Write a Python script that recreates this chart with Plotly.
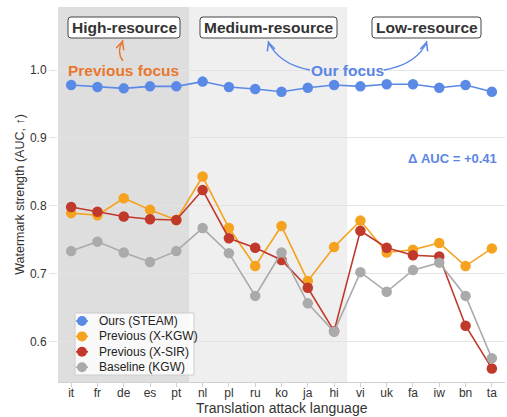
import plotly.graph_objects as go

languages = ["it", "fr", "de", "es", "pt", "nl", "pl", "ru", "ko", "ja", "hi",
             "vi", "uk", "fa", "iw", "bn", "ta"]
steam = [0.978, 0.975, 0.973, 0.976, 0.976, 0.983, 0.975, 0.972, 0.968, 0.974, 0.978,
         0.976, 0.979, 0.979, 0.974, 0.978, 0.968]
xkgw = [0.789, 0.786, 0.811, 0.794, 0.779, 0.843, 0.767, 0.711, 0.770, 0.689, 0.739,
        0.778, 0.731, 0.735, 0.745, 0.711, 0.737]
xsir = [0.798, 0.791, 0.784, 0.780, 0.779, 0.823, 0.752, 0.738, 0.720, 0.679, 0.615,
        0.763, 0.738, 0.727, 0.725, 0.623, 0.560]
kgw = [0.733, 0.747, 0.731, 0.717, 0.733, 0.767, 0.730, 0.667, 0.731, 0.656, 0.614,
       0.702, 0.673, 0.705, 0.716, 0.667, 0.575]
y_ticks = [0.6, 0.7, 0.8, 0.9, 1.0]
region_labels = ["High-resource", "Medium-resource", "Low-resource"]

series = [
    ("Ours (STEAM)", steam, "#5b8ae6"),
    ("Previous (X-KGW)", xkgw, "#f5a31f"),
    ("Previous (X-SIR)", xsir, "#c0392b"),
    ("Baseline (KGW)", kgw, "#aaaaaa"),
]

FONT = "Liberation Sans, Arial, sans-serif"
x_idx = list(range(len(languages)))

fig = go.Figure()
for name, vals, col in series:
    fig.add_trace(go.Scatter(
        x=x_idx, y=vals, name=name, mode="lines+markers",
        line=dict(color=col, width=1.6),
        marker=dict(color=col, size=10.5),
        cliponaxis=False, showlegend=False,
    ))

# resource-region shading
fig.add_shape(type="rect", xref="x", yref="paper", x0=-0.5, x1=4.5, y0=0, y1=1,
              fillcolor="#dedede", line_width=0, layer="below")
fig.add_shape(type="rect", xref="x", yref="paper", x0=4.5, x1=10.5, y0=0, y1=1,
              fillcolor="#efefef", line_width=0, layer="below")

def px2paper(px, py):
    return (px - 58) / 447, (382 - py) / 375

# curved arrows
def curve(p0, c, p1, color):
    x0, y0 = px2paper(*p0)
    cx, cy = px2paper(*c)
    x1, y1 = px2paper(*p1)
    fig.add_shape(type="path", xref="paper", yref="paper",
                  path=f"M {x0},{y0} Q {cx},{cy} {x1},{y1}",
                  line=dict(color=color, width=1.3))

def head(tip, frm, color):
    tx, ty = px2paper(*tip)
    fig.add_annotation(xref="paper", yref="paper", x=tx, y=ty, text="",
                       showarrow=True, arrowhead=5, arrowsize=1.3, arrowwidth=1.2,
                       arrowcolor=color, ax=frm[0] - tip[0], ay=frm[1] - tip[1])

orange = "#e8772e"
blue = "#5b86e5"
curve((123, 61), (116, 52), (123, 40), orange)
head((123, 40), (121, 46), orange)
curve((310, 70), (278, 64), (268, 41), blue)
head((268, 41), (270, 47), blue)
curve((384, 70), (418, 64), (427, 41), blue)
head((427, 41), (425, 47), blue)

# rounded boxes for region labels
def rounded_box(xl, xr, yt, yb, r=3):
    x0, y0 = px2paper(xl, yb)
    x1, y1 = px2paper(xr, yt)
    rx, ry = r / 447, r / 375
    path = (f"M {x0+rx},{y0} L {x1-rx},{y0} Q {x1},{y0} {x1},{y0+ry} "
            f"L {x1},{y1-ry} Q {x1},{y1} {x1-rx},{y1} L {x0+rx},{y1} "
            f"Q {x0},{y1} {x0},{y1-ry} L {x0},{y0+ry} Q {x0},{y0} {x0+rx},{y0} Z")
    fig.add_shape(type="path", xref="paper", yref="paper", path=path,
                  fillcolor="white", line=dict(color="#444444", width=1))

boxes_px = [(68, 180), (200, 337), (372, 481)]
for (xl, xr), txt in zip(boxes_px, region_labels):
    rounded_box(xl, xr, 17, 38)
    cx, cy = px2paper((xl + xr) / 2, 27.5)
    fig.add_annotation(x=cx, xref="paper", y=cy, yref="paper", text=f"<b>{txt}</b>",
                       xanchor="center", yanchor="middle",
                       showarrow=False, font=dict(size=15.5, color="#333333", family=FONT))

fig.add_annotation(x=2, xref="x", y=0.832, yref="paper", text="<b>Previous focus</b>",
                   xanchor="center", yanchor="middle",
                   showarrow=False, font=dict(size=15.5, color=orange, family=FONT))
fig.add_annotation(x=10.5, xref="x", y=0.832, yref="paper", text="<b>Our focus</b>",
                   xanchor="center", yanchor="middle",
                   showarrow=False, font=dict(size=15.5, color=blue, family=FONT))
fig.add_annotation(x=14.5, xref="x", y=0.597, yref="paper", text="<b>Δ AUC = +0.41</b>",
                   xanchor="center", yanchor="middle",
                   showarrow=False, font=dict(size=13, color=blue, family=FONT))

# delta double arrow
fig.add_annotation(x=16.55, y=steam[-1], xref="x", yref="y",
                   ax=16.55, ay=xsir[-1], axref="x", ayref="y",
                   text="", showarrow=True, arrowside="end+start", arrowhead=5,
                   arrowsize=1.3, arrowwidth=1.2, arrowcolor="#7b9ef0")

# manual legend (compact rows)
lx0, ly0 = px2paper(75, 313)
lx1, ly1 = px2paper(194, 375)
fig.add_shape(type="rect", xref="paper", yref="paper", x0=lx0, x1=lx1, y0=ly1, y1=ly0,
              fillcolor="rgba(255,255,255,0.82)", line=dict(color="#cccccc", width=1))
for i, (name, _, col) in enumerate(series):
    cy_px = 321 + i * 15.4
    sx, sy = px2paper(82, cy_px)
    fig.add_shape(type="line", xref="paper", yref="paper", xsizemode="pixel",
                  xanchor=sx, x0=-6, x1=6, y0=sy, y1=sy, line=dict(color=col, width=1.6))
    fig.add_shape(type="circle", xref="paper", yref="paper", xsizemode="pixel",
                  ysizemode="pixel", xanchor=sx, yanchor=sy, x0=-5, x1=5, y0=-5, y1=5,
                  fillcolor=col, line=dict(color=col, width=0))
    tx, ty = px2paper(97, cy_px)
    fig.add_annotation(xref="paper", yref="paper", x=tx, y=ty, text=name,
                       xanchor="left", yanchor="middle", showarrow=False,
                       font=dict(size=12, color="#222222", family=FONT))

# x-axis title as annotation, just under the tick labels
tx, ty = px2paper(282, 408)
fig.add_annotation(xref="paper", yref="paper", x=tx, y=ty,
                   text="Translation attack language", xanchor="center", yanchor="middle",
                   showarrow=False, font=dict(size=14, color="#333333", family=FONT))

fig.update_layout(
    width=507, height=417,
    margin=dict(l=58, r=2, t=7, b=35, autoexpand=False),
    paper_bgcolor="white", plot_bgcolor="white",
    font=dict(family=FONT, size=12, color="#333333"),
    showlegend=False,
)
fig.update_xaxes(
    range=[-0.5, 16.5], tickmode="array", tickvals=x_idx, ticktext=languages,
    showgrid=False, showline=True, linecolor="#d0d0d0", linewidth=1,
    ticks="outside", ticklen=4, tickcolor="#d0d0d0", ticklabelstandoff=-4,
    tickfont=dict(size=12, color="#333333"),
    zeroline=False, automargin=False,
)
fig.update_yaxes(
    range=[0.54, 1.093], tickmode="array", tickvals=y_ticks,
    ticktext=[f"{v:.1f}" for v in y_ticks],
    showgrid=True, gridcolor="#e3e3e3", gridwidth=1, showline=False,
    ticks="outside", ticklen=8, tickcolor="#e3e3e3",
    tickfont=dict(size=12, color="#333333"),
    title=dict(text="Watermark strength (AUC, ↑)", font=dict(size=12.5, color="#333333"), standoff=2),
    zeroline=False, automargin=False,
)

fig.write_html("out.html")
